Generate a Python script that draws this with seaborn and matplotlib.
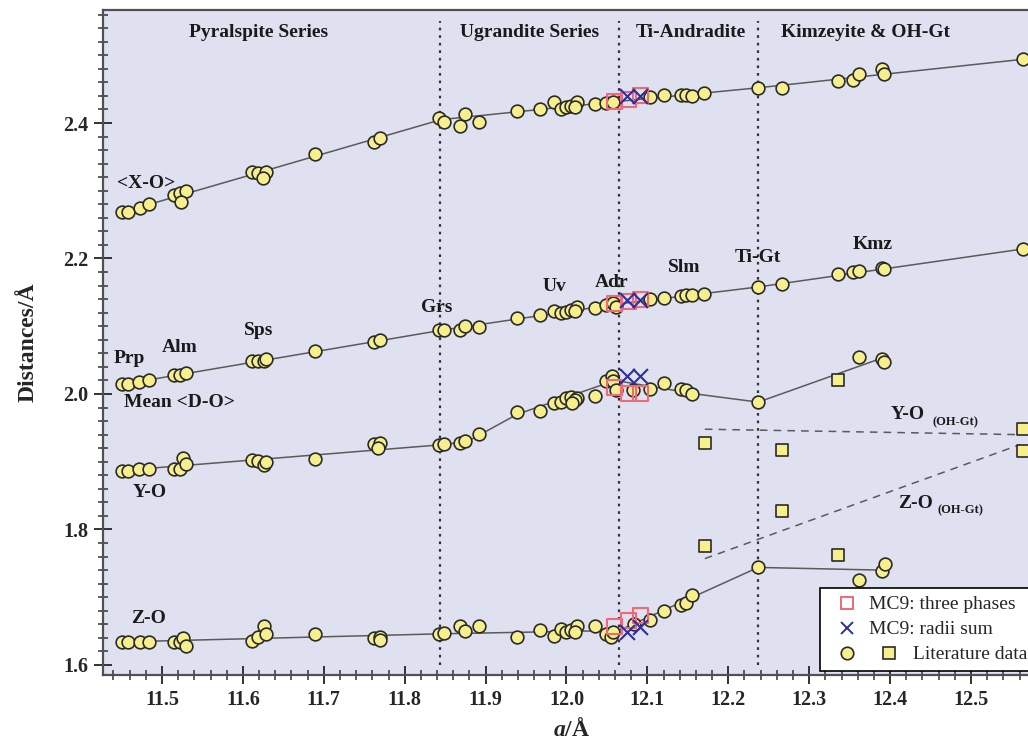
import warnings
warnings.filterwarnings("ignore")
import matplotlib
matplotlib.use("Agg")
import matplotlib.pyplot as plt
import seaborn as sns
from matplotlib.lines import Line2D
from matplotlib.legend_handler import HandlerBase
from matplotlib.ticker import MultipleLocator

# ---------------- data ----------------
# <X-O>
xo_a = [11.451, 11.458, 11.473, 11.484, 11.515, 11.522, 11.530, 11.524, 11.611, 11.619, 11.629, 11.625,
        11.689, 11.762, 11.770, 11.843, 11.849, 11.868, 11.875, 11.892, 11.939, 11.967, 11.985, 11.993,
        12.000, 12.006, 12.013, 12.011, 12.035, 12.049, 12.058, 12.103, 12.120, 12.142, 12.148, 12.155,
        12.170, 12.237, 12.267, 12.336, 12.354, 12.362, 12.390, 12.393, 12.564]
xo_d = [2.269, 2.269, 2.275, 2.280, 2.294, 2.296, 2.300, 2.284, 2.328, 2.326, 2.328, 2.319,
        2.354, 2.372, 2.378, 2.407, 2.402, 2.396, 2.413, 2.402, 2.417, 2.420, 2.431, 2.421,
        2.423, 2.425, 2.431, 2.424, 2.428, 2.429, 2.431, 2.439, 2.441, 2.441, 2.442, 2.440,
        2.444, 2.452, 2.452, 2.462, 2.463, 2.473, 2.479, 2.473, 2.494]
# Mean <D-O>
do_a = [11.450, 11.458, 11.472, 11.484, 11.515, 11.522, 11.530, 11.611, 11.619, 11.626, 11.629,
        11.689, 11.762, 11.769, 11.843, 11.848, 11.868, 11.875, 11.892, 11.939, 11.967, 11.985,
        11.993, 12.000, 12.006, 12.013, 12.011, 12.035, 12.049, 12.058, 12.061, 12.103, 12.120,
        12.142, 12.148, 12.155, 12.170, 12.237, 12.267, 12.336, 12.354, 12.362, 12.390, 12.393, 12.564]
do_d = [2.015, 2.015, 2.018, 2.021, 2.028, 2.028, 2.031, 2.049, 2.049, 2.048, 2.051,
        2.064, 2.077, 2.080, 2.094, 2.094, 2.094, 2.101, 2.099, 2.112, 2.116, 2.123,
        2.119, 2.121, 2.124, 2.129, 2.122, 2.127, 2.131, 2.134, 2.129, 2.140, 2.142,
        2.145, 2.146, 2.146, 2.148, 2.158, 2.162, 2.177, 2.180, 2.182, 2.186, 2.184, 2.214]
# Y-O
yo_a = [11.450, 11.458, 11.472, 11.484, 11.515, 11.522, 11.526, 11.530, 11.611, 11.619, 11.626, 11.629,
        11.689, 11.762, 11.769, 11.767, 11.843, 11.848, 11.868, 11.875, 11.892, 11.939, 11.967,
        11.985, 11.993, 12.000, 12.006, 12.013, 12.011, 12.007, 12.035, 12.049, 12.056, 12.058,
        12.061, 12.082, 12.103, 12.120, 12.142, 12.148, 12.155, 12.237, 12.361, 12.390, 12.393]
yo_d = [1.887, 1.887, 1.890, 1.889, 1.890, 1.889, 1.905, 1.896, 1.903, 1.901, 1.895, 1.899,
        1.904, 1.926, 1.927, 1.921, 1.925, 1.926, 1.927, 1.930, 1.941, 1.974, 1.975,
        1.986, 1.988, 1.994, 1.996, 1.994, 1.991, 1.986, 1.997, 2.019, 2.026, 2.019,
        2.006, 2.006, 2.007, 2.016, 2.007, 2.006, 2.000, 1.988, 2.055, 2.051, 2.047]
# Z-O
zo_a = [11.450, 11.458, 11.473, 11.484, 11.515, 11.522, 11.526, 11.530, 11.611, 11.619, 11.626, 11.629,
        11.689, 11.762, 11.769, 11.770, 11.843, 11.848, 11.868, 11.875, 11.892, 11.939, 11.967,
        11.985, 11.993, 12.000, 12.006, 12.013, 12.011, 12.035, 12.049, 12.055, 12.058, 12.083,
        12.103, 12.120, 12.142, 12.148, 12.155, 12.237, 12.362, 12.390, 12.394]
zo_d = [1.634, 1.634, 1.634, 1.634, 1.634, 1.634, 1.640, 1.628, 1.636, 1.642, 1.657, 1.646,
        1.645, 1.640, 1.641, 1.637, 1.645, 1.647, 1.658, 1.650, 1.658, 1.641, 1.651,
        1.643, 1.653, 1.649, 1.652, 1.658, 1.649, 1.658, 1.646, 1.642, 1.649, 1.661,
        1.666, 1.679, 1.689, 1.692, 1.703, 1.744, 1.726, 1.739, 1.749]

# trend lines (polyline nodes)
xo_line_a = [11.450, 11.845, 12.065, 12.237, 12.564]
xo_line_d = [2.268, 2.405, 2.432, 2.452, 2.494]
do_line_a = [11.450, 11.845, 12.065, 12.237, 12.564]
do_line_d = [2.014, 2.094, 2.133, 2.158, 2.214]
yo_line_a = [11.450, 11.845, 11.878, 11.939, 12.060, 12.160, 12.237, 12.390]
yo_line_d = [1.887, 1.925, 1.930, 1.970, 2.020, 2.000, 1.988, 2.053]
zo_line_a = [11.450, 11.845, 12.065, 12.237, 12.390]
zo_line_d = [1.634, 1.646, 1.651, 1.744, 1.740]

# MC9: three phases
mc_a = [12.059, 12.077, 12.092]
mc_xo = [2.432, 2.435, 2.440]
mc_do = [2.133, 2.136, 2.139]
mc_yo = [2.009, 2.001, 2.001]
mc_zo = [1.657, 1.666, 1.673]
# MC9: radii sum
rs_a = [12.075, 12.091]
rs_xo = [2.440, 2.440]
rs_do = [2.139, 2.139]
rs_yo = [2.026, 2.026]
rs_zo = [1.649, 1.656]

# Literature data for OH-Gt (squares)
oh_a = [12.171, 12.267, 12.336, 12.564]
oh_y = [1.927, 1.917, 2.021, 1.949]
oh_z = [1.776, 1.828, 1.762, 1.916]
fit_a = [12.171, 12.560]
fit_y = [1.948, 1.940]
fit_z = [1.757, 1.925]

boundaries = [11.844, 12.065, 12.237]
series_titles = ["Pyralspite Series", "Ugrandite Series", "Ti-Andradite", "Kimzeyite & OH-Gt"]
series_title_a = [11.619, 11.954, 12.154, 12.370]
species = ["Prp", "Alm", "Sps", "Grs", "Uv", "Adr", "Slm", "Ti-Gt", "Kmz"]
species_a = [11.460, 11.522, 11.619, 11.839, 11.985, 12.056, 12.146, 12.236, 12.378]
species_d = [2.052, 2.069, 2.093, 2.127, 2.158, 2.165, 2.186, 2.202, 2.221]

xticks = [11.5, 11.6, 11.7, 11.8, 11.9, 12.0, 12.1, 12.2, 12.3, 12.4, 12.5]
xtick_labels = ["11.5", "11.6", "11.7", "11.8", "11.9", "12.0", "12.1", "12.2", "12.3", "12.4", "12.5"]
yticks = [1.6, 1.8, 2.0, 2.2, 2.4]
ytick_labels = ["1.6", "1.8", "2.0", "2.2", "2.4"]

# ---------------- style ----------------
sns.set_theme(style="ticks")
plt.rcParams["font.family"] = ["Liberation Serif", "DejaVu Serif"]
plt.rcParams["mathtext.fontset"] = "custom"
plt.rcParams["mathtext.it"] = "Liberation Serif:italic:bold"
plt.rcParams["mathtext.rm"] = "Liberation Serif:bold"

BG = "#dfe1f0"
YEL = "#f6ef8c"
EDGE = "#2a2a2a"
LINE = "#5a5a5a"
RED = "#ee6a78"
BLUE = "#2e2e9e"
SPINE = "#505050"

fig = plt.figure(figsize=(10.28, 7.45), dpi=100)
ax = fig.add_axes([103 / 1028, 70 / 745, (1040 - 103) / 1028, 665 / 745])
ax.set_facecolor(BG)

# trend lines
for la, ld in [(xo_line_a, xo_line_d), (do_line_a, do_line_d), (yo_line_a, yo_line_d), (zo_line_a, zo_line_d)]:
    sns.lineplot(x=la, y=ld, ax=ax, sort=False, estimator=None, color=LINE, lw=1.1, zorder=2)
# OH-Gt fit lines
for fd in [fit_y, fit_z]:
    sns.lineplot(x=fit_a, y=fd, ax=ax, sort=False, estimator=None, color=LINE, lw=1.1,
                 dashes=False, linestyle=(0, (5, 4)), zorder=2)

# boundaries
ax.vlines(boundaries, 1.600, 2.551, colors="#333333", linestyles=(0, (1.2, 2.2)), lw=1.6, zorder=1.5)

# literature circles
for a, d in [(xo_a, xo_d), (do_a, do_d), (yo_a, yo_d), (zo_a, zo_d)]:
    sns.scatterplot(x=a, y=d, ax=ax, marker="o", s=84, color=YEL, edgecolor=EDGE, linewidth=1.2, zorder=3)
# literature squares
for d in [oh_y, oh_z]:
    sns.scatterplot(x=oh_a, y=d, ax=ax, marker="s", s=76, color=YEL, edgecolor=EDGE, linewidth=1.2, zorder=3)
# MC9 three phases
for d in [mc_xo, mc_do, mc_yo, mc_zo]:
    sns.scatterplot(x=mc_a, y=d, ax=ax, marker="s", s=115, color=RED, facecolor="none",
                    edgecolor=RED, linewidth=1.5, zorder=4)
# MC9 radii sum
for d in [rs_xo, rs_do, rs_yo, rs_zo]:
    sns.scatterplot(x=rs_a, y=d, ax=ax, marker="x", s=115, color=BLUE, linewidth=1.5, zorder=5)

# axes limits / ticks
ax.set_xlim(11.4271, 12.5853)
ax.set_ylim(1.5852, 2.5668)
ax.set_xticks(xticks)
ax.set_xticklabels(xtick_labels, fontweight="bold", fontsize=14.5)
ax.set_yticks(yticks)
ax.set_yticklabels(ytick_labels, fontweight="bold", fontsize=14.5)
ax.xaxis.set_minor_locator(MultipleLocator(0.02))
ax.yaxis.set_minor_locator(MultipleLocator(0.02))
ax.tick_params(which="major", direction="inout", length=13, width=1.4, color="#333333", pad=4)
ax.tick_params(which="minor", direction="inout", length=7, width=1.1, color="#333333")
for sp in ax.spines.values():
    sp.set_color(SPINE)
    sp.set_linewidth(1.6)

ax.set_xlabel(r"$a$/Å", fontsize=17, fontweight="bold", labelpad=6)
ax.set_ylabel("Distances/Å", fontsize=17, fontweight="bold", labelpad=18)

# texts
tk = dict(fontweight="bold", fontsize=14, ha="center", va="center", color="#1a1a1a")
for t, a in zip(series_titles, series_title_a):
    ax.text(a, 2.533, t, **tk)
for t, a, d in zip(species, species_a, species_d):
    ax.text(a, d, t, **tk)
ax.text(11.481, 2.310, "<X-O>", **tk)
ax.text(11.522, 1.988, "Mean <D-O>", **tk)
ax.text(11.485, 1.855, "Y-O", **tk)
ax.text(11.483, 1.668, "Z-O", **tk)
ax.text(12.4215, 1.969, "Y-O", **tk)
ax.text(12.481, 1.958, "(OH-Gt)", fontweight="bold", fontsize=9, ha="center", va="center", color="#1a1a1a")
ax.text(12.431, 1.839, "Z-O", **tk)
ax.text(12.487, 1.828, "(OH-Gt)", fontweight="bold", fontsize=9, ha="center", va="center", color="#1a1a1a")

# legend
class TwoMarkerHandler(HandlerBase):
    def create_artists(self, legend, orig_handle, xdescent, ydescent, width, height, fontsize, trans):
        cy = height / 2 - ydescent
        cx = width / 2 - xdescent
        c = Line2D([cx], [cy], marker="o", markersize=9, markerfacecolor=YEL,
                   markeredgecolor=EDGE, markeredgewidth=1.2, linestyle="none", transform=trans)
        s = Line2D([cx + 30], [cy], marker="s", markersize=8.5, markerfacecolor=YEL,
                   markeredgecolor=EDGE, markeredgewidth=1.2, linestyle="none", transform=trans)
        return [c, s]

h1 = Line2D([], [], marker="s", markersize=9, markerfacecolor="none", markeredgecolor=RED,
            markeredgewidth=1.4, linestyle="none")
h2 = Line2D([], [], marker="x", markersize=9, color=BLUE, markeredgewidth=1.4, linestyle="none")
h3 = Line2D([], [], linestyle="none")
leg = ax.legend(handles=[h1, h2, h3],
                labels=["MC9: three phases", "MC9: radii sum", "         Literature data"],
                handler_map={h3: TwoMarkerHandler()},
                loc="upper left", bbox_to_anchor=(820 / 1028, 1 - 588 / 745),
                bbox_transform=fig.transFigure, borderaxespad=0, frameon=True, fancybox=False,
                edgecolor="black", framealpha=1, handlelength=2.0, handletextpad=0.1,
                borderpad=0.4, labelspacing=0.38, fontsize=14)
leg.get_frame().set_linewidth(1.2)
leg.set_zorder(10)

fig.savefig("out.png", dpi=100)
